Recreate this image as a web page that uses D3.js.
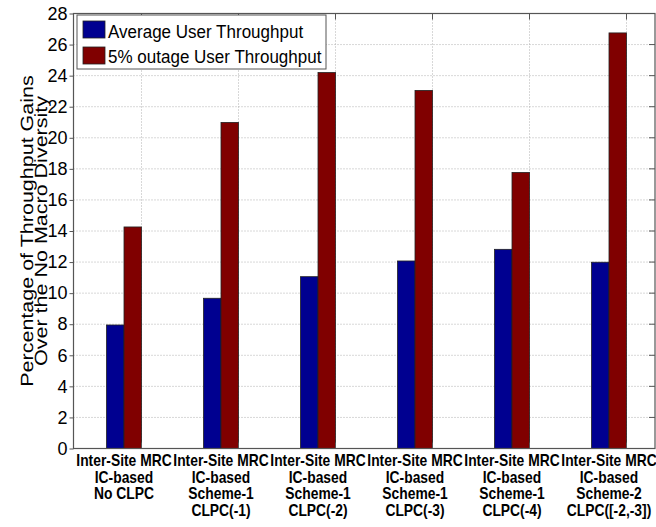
<!DOCTYPE html>
<html>
<head>
<meta charset="utf-8">
<script src="https://cdn.jsdelivr.net/npm/d3@7"></script>
<style>
  body { margin: 0; background: #fff; }
  svg { display: block; font-family: Arial, "Liberation Sans", sans-serif; }
</style>
</head>
<body>
<div id="chart"></div>
<script>
// Chart values
var categories = [
  ["Inter-Site MRC", "IC-based", "No CLPC"],
  ["Inter-Site MRC", "IC-based", "Scheme-1", "CLPC(-1)"],
  ["Inter-Site MRC", "IC-based", "Scheme-1", "CLPC(-2)"],
  ["Inter-Site MRC", "IC-based", "Scheme-1", "CLPC(-3)"],
  ["Inter-Site MRC", "IC-based", "Scheme-1", "CLPC(-4)"],
  ["Inter-Site MRC", "IC-based", "Scheme-2", "CLPC([-2,-3])"]
];
var avgThroughput = [7.95, 9.67, 11.06, 12.07, 12.82, 11.99];
var outageThroughput = [14.26, 20.99, 24.2, 23.05, 17.77, 26.75];
var yTicks = [0, 2, 4, 6, 8, 10, 12, 14, 16, 18, 20, 22, 24, 26, 28];
var seriesNames = ["Average User Throughput", "5% outage User Throughput"];
var seriesColors = ["#000090", "#800000"];
var yLabel = ["Percentage of Throughput Gains", "Over the No Macro Diversity"];

var W = 656, H = 527;
var box = {left: 73.5, right: 655, top: 13.5, bottom: 448.5};
var bw = 17.5; // bar width in px
var axisColor = "#555";

var svg = d3.select("#chart").append("svg")
  .attr("width", W).attr("height", H);

var x = d3.scaleLinear().domain([1, 6]).range([124, 609]);
var y = d3.scaleLinear().domain([0, 28]).range([box.bottom, box.top]);

var idx = d3.range(categories.length).map(function(i) { return i + 1; });

// horizontal grid
svg.append("g").selectAll("line")
  .data(yTicks.slice(1, -1))
  .enter().append("line")
    .attr("x1", box.left).attr("x2", box.right)
    .attr("y1", function(d) { return y(d); })
    .attr("y2", function(d) { return y(d); })
    .attr("stroke", "#b0b0b0")
    .attr("stroke-width", 1)
    .attr("stroke-dasharray", "1,2");

// vertical grid (sits at right edge of each red bar)
svg.append("g").selectAll("line")
  .data(idx)
  .enter().append("line")
    .attr("x1", function(d) { return x(d) + bw; })
    .attr("x2", function(d) { return x(d) + bw; })
    .attr("y1", box.top).attr("y2", box.bottom)
    .attr("stroke", "#b0b0b0")
    .attr("stroke-width", 1)
    .attr("stroke-dasharray", "1,2");

// bars
[avgThroughput, outageThroughput].forEach(function(vals, s) {
  svg.append("g").selectAll("rect")
    .data(vals)
    .enter().append("rect")
      .attr("x", function(d, i) { return x(i + 1) - bw + s * bw; })
      .attr("y", function(d) { return y(d); })
      .attr("width", bw)
      .attr("height", function(d) { return y(0) - y(d); })
      .attr("fill", seriesColors[s])
      .attr("stroke", "#222")
      .attr("stroke-width", 0.8);
});

// axes box
svg.append("rect")
  .attr("x", box.left).attr("y", box.top)
  .attr("width", box.right - box.left)
  .attr("height", box.bottom - box.top)
  .attr("fill", "none")
  .attr("stroke", axisColor)
  .attr("stroke-width", 1.2);

// left axis
var yAxis = d3.axisLeft(y).tickValues(yTicks).tickSize(4).tickPadding(2);
var gy = svg.append("g")
  .attr("transform", "translate(" + box.left + ",0)")
  .call(yAxis);
gy.select(".domain").remove();
gy.selectAll(".tick line").attr("stroke", axisColor);
gy.selectAll(".tick text")
  .attr("font-size", "18px")
  .attr("font-family", "Arial, 'Liberation Sans', sans-serif")
  .attr("fill", "#000");

// right axis ticks
svg.append("g").selectAll("line")
  .data(yTicks)
  .enter().append("line")
    .attr("x1", box.right - 6).attr("x2", box.right)
    .attr("y1", function(d) { return y(d); })
    .attr("y2", function(d) { return y(d); })
    .attr("stroke", axisColor);

// top and bottom ticks
[box.top, box.bottom].forEach(function(yy, k) {
  svg.append("g").selectAll("line")
    .data(idx)
    .enter().append("line")
      .attr("x1", function(d) { return x(d) + bw; })
      .attr("x2", function(d) { return x(d) + bw; })
      .attr("y1", yy)
      .attr("y2", k === 0 ? yy + 6 : yy - 6)
      .attr("stroke", axisColor);
});

// x category labels (multi-line, slightly condensed)
var lineH = 16.7;
var xl = svg.append("g").selectAll("g")
  .data(categories)
  .enter().append("g")
    .attr("transform", function(d, i) {
      return "translate(" + x(i + 1) + ",466) scale(0.84,1)";
    });
xl.selectAll("text")
  .data(function(d) { return d; })
  .enter().append("text")
    .attr("x", 0)
    .attr("y", function(d, j) { return j * lineH; })
    .attr("text-anchor", "middle")
    .attr("font-size", "16.5px")
    .attr("font-weight", "bold")
    .attr("fill", "#000")
    .text(function(d) { return d; });

// y label: placed glyph by glyph so rotated text stays straight
var midY = (box.top + box.bottom) / 2;
var ylg = svg.append("g");
yLabel.forEach(function(str, k) {
  var tmp = svg.append("text").attr("font-size", "21.5px").text(str);
  var total = tmp.node().getComputedTextLength();
  var chars = str.split("");
  var offs = chars.map(function(c, i) {
    return i === 0 ? 0 : tmp.node().getSubStringLength(0, i);
  });
  tmp.remove();
  chars.forEach(function(c, i) {
    if (c === " ") return;
    ylg.append("text")
      .attr("transform", "translate(" + (32.5 + k * 14.5) + "," + (midY + total / 2 - offs[i]) + ") scale(0.82,1) rotate(-90)")
      .attr("font-size", "21.5px")
      .attr("text-rendering", "geometricPrecision")
      .attr("fill", "#000")
      .text(c);
  });
});

// legend
var lg = svg.append("g");
lg.append("rect")
  .attr("x", 77).attr("y", 15)
  .attr("width", 249).attr("height", 54)
  .attr("fill", "#fff")
  .attr("stroke", axisColor)
  .attr("stroke-width", 1);
seriesNames.forEach(function(name, s) {
  lg.append("rect")
    .attr("x", 83).attr("y", 21 + s * 26)
    .attr("width", 22).attr("height", 17)
    .attr("fill", seriesColors[s])
    .attr("stroke", "#222")
    .attr("stroke-width", 0.8);
  lg.append("text")
    .attr("transform", "translate(108," + (37.5 + s * 25.8) + ") scale(0.92,1)")
    .attr("font-size", "18.5px")
    .attr("fill", "#000")
    .text(name);
});
</script>
</body>
</html>
